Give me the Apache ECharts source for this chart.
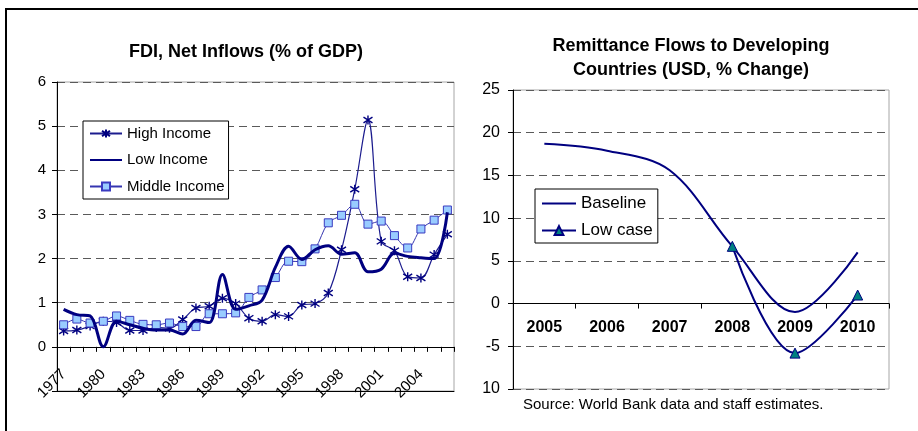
<!DOCTYPE html>
<html>
<head>
<meta charset="utf-8">
<script src="https://cdn.jsdelivr.net/npm/echarts@6/dist/echarts.min.js"></script>
<style>
  html, body { margin: 0; padding: 0; background: #fff; }
  #chart { width: 918px; height: 431px; }
</style>
</head>
<body>
<div id="chart"></div>
<script>
// FDI, net inflows (% of GDP), 1977-2006
const fdiYears = ['1977','1978','1979','1980','1981','1982','1983','1984','1985','1986',
                  '1987','1988','1989','1990','1991','1992','1993','1994','1995','1996',
                  '1997','1998','1999','2000','2001','2002','2003','2004','2005','2006'];
const highIncome = [0.36,0.38,0.47,0.58,0.55,0.37,0.37,0.44,0.42,0.62,
                    0.88,0.92,1.10,0.98,0.65,0.58,0.73,0.69,0.95,0.98,
                    1.22,2.20,3.57,5.14,2.39,2.18,1.59,1.56,2.09,2.55];
const lowIncome = [0.85,0.73,0.70,0.00,0.58,0.50,0.42,0.38,0.38,0.29,
                   0.60,0.55,1.64,0.85,0.93,1.06,1.80,2.28,1.98,2.20,
                   2.29,2.10,2.13,1.70,1.76,2.12,2.05,2.02,2.00,3.05];
const middleIncome = [0.50,0.63,0.54,0.58,0.70,0.60,0.51,0.50,0.54,0.46,
                      0.46,0.75,0.75,0.77,1.12,1.29,1.57,1.94,1.93,2.22,
                      2.81,2.98,3.23,2.78,2.85,2.52,2.24,2.67,2.87,3.10];
const fdiMin = -1, fdiMax = 6;

// Remittance flows to developing countries (USD, % change)
const remitYears = ['2005','2006','2007','2008','2009','2010'];
const baseline = [18.7, 17.9, 15.6, 6.7, -1.0, 6.0];
const lowCase = [null, null, null, 6.7, -5.8, 1.0];
const remitMin = -10, remitMax = 25;

const FONT = '"Liberation Sans", Arial, sans-serif';
const NAVY = '#000080';
const GRID_DASH = { color: '#5a5a5a', width: 1.2, type: [8, 5] };
const ASTERISK = 'path://M5,0L5,10M0.8,1.8L9.2,8.2M9.2,1.8L0.8,8.2';

const leftGrid = { left: 57, top: 82, width: 397, height: 309 };
const rightGrid = { left: 513, top: 90, width: 376, height: 299 };
// distance of the zero line above the bottom edge of each plot
const leftZero = leftGrid.height * (0 - fdiMin) / (fdiMax - fdiMin);
const rightZero = rightGrid.height * (0 - remitMin) / (remitMax - remitMin);

const chart = echarts.init(document.getElementById('chart'), null, { renderer: 'canvas' });

chart.setOption({
  animation: false,
  backgroundColor: '#fff',
  textStyle: { fontFamily: FONT, color: '#000' },
  grid: [
    Object.assign({ show: true, borderColor: '#a6a6a6', borderWidth: 1 }, leftGrid),
    Object.assign({ show: true, borderColor: '#a6a6a6', borderWidth: 1 }, rightGrid)
  ],
  xAxis: [
    {
      gridIndex: 0, type: 'category', data: fdiYears, boundaryGap: true,
      position: 'bottom', offset: -leftZero,
      axisLine: { onZero: false, lineStyle: { color: '#000', width: 1 } },
      axisTick: { show: true, interval: 0, length: 5, lineStyle: { color: '#000' } },
      axisLabel: { interval: 2, rotate: 45, margin: 25, fontSize: 15, color: '#000', fontFamily: FONT },
      splitLine: { show: false }
    },
    {
      gridIndex: 0, type: 'category', data: fdiYears, position: 'bottom',
      axisLine: { onZero: false, lineStyle: { color: '#000', width: 1 } },
      axisTick: { show: false }, axisLabel: { show: false }, splitLine: { show: false }
    },
    {
      gridIndex: 1, type: 'category', data: remitYears, boundaryGap: true,
      position: 'bottom', offset: -rightZero,
      axisLine: { onZero: false, lineStyle: { color: '#000', width: 1 } },
      axisTick: { show: true, interval: 0, length: 5, lineStyle: { color: '#000' } },
      axisLabel: { interval: 0, margin: 16, fontSize: 16, fontWeight: 'bold', color: '#000', fontFamily: FONT },
      splitLine: { show: false }
    }
  ],
  yAxis: [
    {
      gridIndex: 0, type: 'value', min: fdiMin, max: fdiMax, interval: 1,
      axisLine: { show: true, lineStyle: { color: '#000', width: 1 } },
      axisTick: { show: true, length: 5, lineStyle: { color: '#000' } },
      axisLabel: { margin: 11, fontSize: 15, color: '#000', fontFamily: FONT,
                   formatter: v => (v < 0 ? '' : String(v)) },
      splitLine: { show: true, lineStyle: GRID_DASH }
    },
    {
      gridIndex: 1, type: 'value', min: remitMin, max: remitMax, interval: 5,
      axisLine: { show: true, lineStyle: { color: '#000', width: 1 } },
      axisTick: { show: true, length: 5, lineStyle: { color: '#000' } },
      axisLabel: { margin: 13, fontSize: 16, color: '#000', fontFamily: FONT,
                   formatter: v => (v === -10 ? '10' : String(v)) },
      splitLine: { show: true, lineStyle: GRID_DASH }
    }
  ],
  legend: [
    {
      data: [
        { name: 'High Income' },
        { name: 'Low Income', itemStyle: { opacity: 0 } },
        { name: 'Middle Income' }
      ],
      orient: 'vertical', left: 83, top: 121,
      padding: [5, 4, 5, 6], itemWidth: 32, itemHeight: 10, itemGap: 11.5,
      selectedMode: false,
      backgroundColor: '#fff', borderColor: '#000', borderWidth: 1, borderRadius: 0,
      textStyle: { fontSize: 15, color: '#000', fontFamily: FONT }
    },
    {
      data: [
        { name: 'Baseline', itemStyle: { opacity: 0 } },
        { name: 'Low case' }
      ],
      orient: 'vertical', left: 535, top: 189,
      padding: [6, 5, 4, 6], itemWidth: 34, itemHeight: 11, itemGap: 10,
      selectedMode: false,
      backgroundColor: '#fff', borderColor: '#000', borderWidth: 1, borderRadius: 0,
      textStyle: { fontSize: 17, color: '#000', fontFamily: FONT }
    }
  ],
  series: [
    {
      name: 'High Income', type: 'line', xAxisIndex: 0, yAxisIndex: 0,
      data: highIncome, smooth: 0.35, showAllSymbol: true,
      symbol: ASTERISK, symbolSize: 9,
      lineStyle: { color: '#1c1c8e', width: 1.2 },
      itemStyle: { color: 'rgba(0,0,0,0)', borderColor: NAVY, borderWidth: 1.4 },
      z: 3
    },
    {
      name: 'Low Income', type: 'line', xAxisIndex: 0, yAxisIndex: 0,
      data: lowIncome, smooth: 0.35, symbol: 'none',
      lineStyle: { color: NAVY, width: 3 },
      itemStyle: { color: NAVY },
      z: 4
    },
    {
      name: 'Middle Income', type: 'line', xAxisIndex: 0, yAxisIndex: 0,
      data: middleIncome, smooth: 0.35, showAllSymbol: true,
      symbol: 'rect', symbolSize: 8,
      lineStyle: { color: '#3535b0', width: 1 },
      itemStyle: { color: '#99ccff', borderColor: '#3a3ac0', borderWidth: 1 },
      z: 3
    },
    {
      name: 'Baseline', type: 'line', xAxisIndex: 2, yAxisIndex: 1,
      data: baseline, smooth: 0.35, symbol: 'none',
      lineStyle: { color: NAVY, width: 2 },
      itemStyle: { color: NAVY },
      z: 3
    },
    {
      name: 'Low case', type: 'line', xAxisIndex: 2, yAxisIndex: 1,
      data: lowCase, smooth: 0.35, showAllSymbol: true,
      symbol: 'triangle', symbolSize: 10,
      lineStyle: { color: NAVY, width: 2 },
      itemStyle: { color: '#008080', borderColor: NAVY, borderWidth: 1 },
      z: 4
    }
  ],
  graphic: [
    { type: 'rect', silent: true, z: 100,
      shape: { x: 6, y: 9, width: 1000, height: 600 },
      style: { fill: 'none', stroke: '#000', lineWidth: 2 } },
    { type: 'text', silent: true,
      style: { x: 246, y: 52, text: 'FDI, Net Inflows (% of GDP)', align: 'center', verticalAlign: 'middle',
               font: 'bold 18px ' + FONT, fill: '#000' } },
    { type: 'text', silent: true,
      style: { x: 691, y: 46, text: 'Remittance Flows to Developing', align: 'center', verticalAlign: 'middle',
               font: 'bold 18px ' + FONT, fill: '#000' } },
    { type: 'text', silent: true,
      style: { x: 691, y: 70, text: 'Countries (USD, % Change)', align: 'center', verticalAlign: 'middle',
               font: 'bold 18px ' + FONT, fill: '#000' } },
    { type: 'text', silent: true,
      style: { x: 523, y: 405, text: 'Source: World Bank data and staff estimates.', align: 'left', verticalAlign: 'middle',
               font: '15px ' + FONT, fill: '#000' } }
  ]
});
</script>
</body>
</html>
